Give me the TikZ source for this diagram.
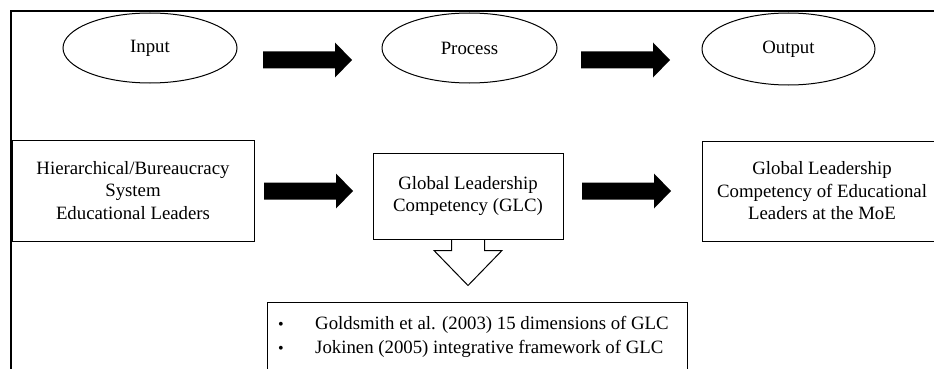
\documentclass[tikz,border=0pt]{standalone}
\usepackage{fontspec}
\setmainfont{Liberation Serif}
\usetikzlibrary{shapes.geometric}
\begin{document}
\begin{tikzpicture}[x=1pt,y=-1pt,
  every node/.style={font=\fontsize{18.8}{22.5}\selectfont, inner sep=0pt},
  oval/.style={draw, line width=1pt, ellipse, minimum width=174pt, minimum height=70pt},
  box/.style={draw, line width=1pt, align=center},
  blockarr/.pic={\fill (0,-8.5) -- (72,-8.5) -- (72,-17.5) -- (89,0) -- (72,17.5) -- (72,8.5) -- (0,8.5) -- cycle;}]
\useasboundingbox (0,0) rectangle (934,369);
\clip (0,0) rectangle (934,369);
\fill[white] (0,0) rectangle (934,369);
% outer frame
\draw[line width=1.2pt] (11,380) -- (11,11) -- (950,11);
% top row
\node[oval] (input) at (150,48) {Input};
\node[oval, minimum width=175pt] (process) at (469.5,48) {Process};
\node[oval, minimum width=173pt, minimum height=72pt] (output) at (788.5,49) {Output};
\pic at (263,60) {blockarr};
\pic at (581,60) {blockarr};
% middle row
\node[box, minimum width=242pt, minimum height=101pt] (hier) at (133,190.5) {Hierarchical/Bureaucracy\\System\\Educational Leaders};
\node[box, minimum width=190pt, minimum height=86pt] (glc) at (468,196) {Global Leadership\\Competency (GLC)};
\node[box, minimum width=240pt, minimum height=100pt] (moe) at (822,191) {Global Leadership\\Competency of Educational\\Leaders at the MoE};
\pic at (264,191) {blockarr};
\pic at (582,191) {blockarr};
% down arrow
\draw[line width=1pt, line join=miter] ([xshift=-16.5pt]glc.south) -- ++(0,11) -- ++(-17.5,0) -- ++(34,35) coordinate (tip) -- ++(34,-35) -- ++(-17.5,0) -- ([xshift=16.5pt]glc.south);
% bottom box
\node[draw, line width=1pt, anchor=north west, minimum width=420pt, minimum height=100pt] (lit) at (267,302) {};
\node[anchor=west, align=left, font=\fontsize{18.8}{24}\selectfont] (refs) at (278,337)
  {\makebox[37pt][l]{\fontsize{16}{16}\selectfont•}Goldsmith et al. (2003)\ 15 dimensions of GLC\\
   \makebox[37pt][l]{\fontsize{16}{16}\selectfont•}Jokinen (2005) integrative\ framework of GLC};
\end{tikzpicture}
\end{document}
